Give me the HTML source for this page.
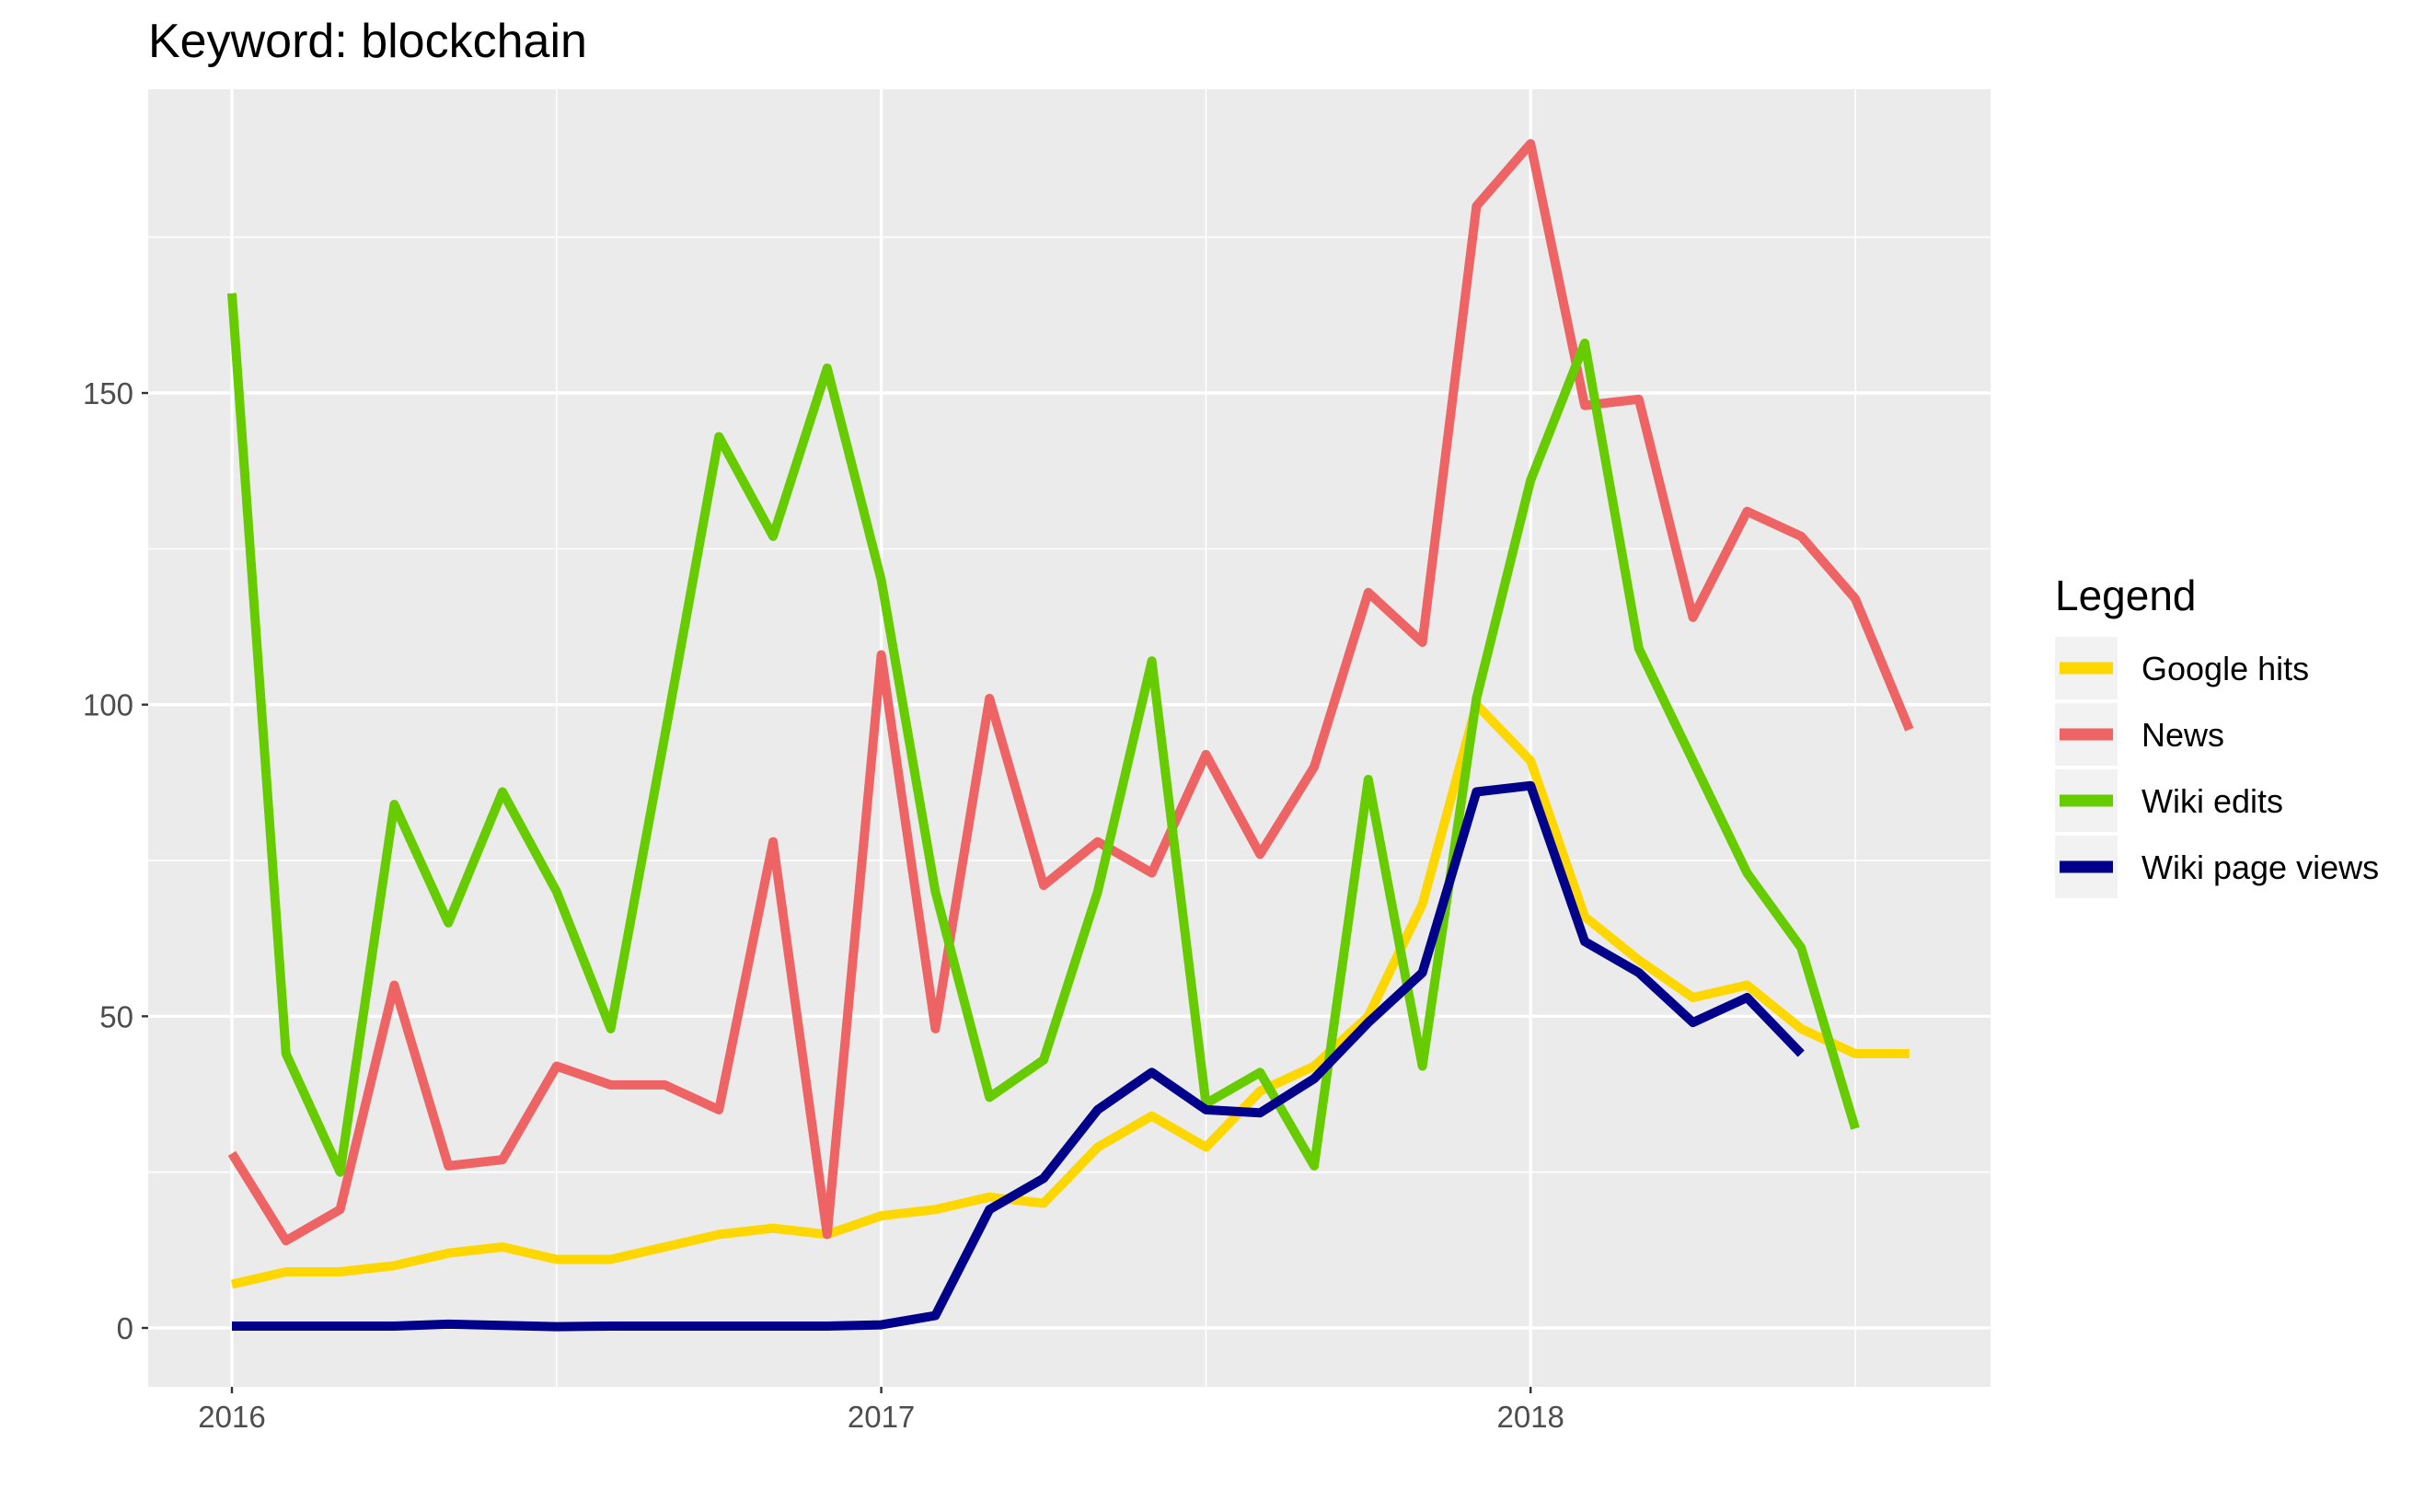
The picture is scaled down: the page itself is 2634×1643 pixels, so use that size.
<!DOCTYPE html>
<html><head><meta charset="utf-8"><style>
html,body{margin:0;padding:0;background:#fff;}
svg{display:block;font-family:"Liberation Sans",Arial,sans-serif;}
</style></head><body>
<svg id="chart" width="2634" height="1643" viewBox="0 0 2634 1643" xmlns="http://www.w3.org/2000/svg">
<text x="161" y="62" font-size="52" fill="#000">Keyword: blockchain</text>
<rect x="161" y="97" width="2002" height="1410" fill="#ebebeb"/>
<g id="grid"></g>
<g id="series"></g>
<g id="axes"></g>
<g id="legend">
<text x="2233" y="663" font-size="46" fill="#000">Legend</text>
</g>
</svg>
<script>
const googleHits=[7,9,9,10,12,13,11,11,13,15,16,15,18,19,21,20,29,34,29,38,42,50,68,100,91,66,59,53,55,48,44,44];
const news=[28,14,19,55,26,27,42,39,39,35,78,15,108,48,101,71,78,73,92,76,90,118,110,180,190,148,149,114,131,127,117,96];
const wikiEdits=[166,44,25,84,65,86,70,48,95,143,127,154,120,70,37,43,70,107,36,41,26,88,42,101,136,158,109,91,73,61,32];
const wikiViews=[0.3,0.3,0.3,0.3,0.6,0.4,0.2,0.3,0.3,0.3,0.3,0.3,0.5,2,19,24,35,41,35,34.5,40,49,57,86,87,62,57,49,53,44];
const seriesNames=["Google hits","News","Wiki edits","Wiki page views"];
const seriesColors=["#FFD700","#EE6363","#66CC00","#00008B"];
const yTicks=[0,50,100,150];
const yMinor=[25,75,125,175];
const xTickLabels=["2016","2017","2018"];
const xTickMonths=[0,12,24];
const xMinorMonths=[6,18,30];

const NS="http://www.w3.org/2000/svg";
const PX0=161,PX1=2163,PY0=97,PY1=1507;
function xs(m){return 252+m*58.8;}
function ys(v){return 1443-v*6.773;}
function mk(tag,attrs,parent){const e=document.createElementNS(NS,tag);for(const k in attrs)e.setAttribute(k,attrs[k]);parent.appendChild(e);return e;}
const grid=document.getElementById('grid');
yMinor.forEach(v=>{const l=mk('line',{x1:PX0,x2:PX1,y1:ys(v),y2:ys(v),stroke:'#fff','stroke-width':1.6},grid);

});
xMinorMonths.forEach(m=>{const l=mk('line',{x1:xs(m),x2:xs(m),y1:PY0,y2:PY1,stroke:'#fff','stroke-width':1.6},grid);

});
yTicks.forEach(v=>{const l=mk('line',{x1:PX0,x2:PX1,y1:ys(v),y2:ys(v),stroke:'#fff','stroke-width':3.4},grid);

});
xTickMonths.forEach(m=>{const l=mk('line',{x1:xs(m),x2:xs(m),y1:PY0,y2:PY1,stroke:'#fff','stroke-width':3.4},grid);

});
const sg=document.getElementById('series');
[googleHits,news,wikiEdits,wikiViews].forEach((arr,i)=>{
 const pts=arr.map((v,j)=>xs(j).toFixed(1)+','+ys(v).toFixed(1)).join(' ');
 const p=mk('polyline',{points:pts,fill:'none',stroke:seriesColors[i],'stroke-width':10,'stroke-linejoin':'round','stroke-linecap':'butt'},sg);
 
 
});
const ax=document.getElementById('axes');
yTicks.forEach(v=>{
 const t=mk('line',{x1:PX0-7,x2:PX0,y1:ys(v),y2:ys(v),stroke:'#333','stroke-width':2.4},ax);
 
 
 const tx=mk('text',{x:PX0-16,y:ys(v)+12,'font-size':33,fill:'#4d4d4d','text-anchor':'end'},ax);
 tx.textContent=String(v);
 
 
});
xTickMonths.forEach((m,i)=>{
 const t=mk('line',{x1:xs(m),x2:xs(m),y1:PY1,y2:PY1+7,stroke:'#333','stroke-width':2.4},ax);
 
 
 const tx=mk('text',{x:xs(m),y:PY1+44,'font-size':33,fill:'#4d4d4d','text-anchor':'middle'},ax);
 tx.textContent=xTickLabels[i];
 
 
});
const lg=document.getElementById('legend');
seriesNames.forEach((n,i)=>{
 const y0=692+i*72;
 const g=mk('g',{},lg);
 
 
 mk('rect',{x:2233,y:y0,width:68,height:68,fill:'#f2f2f2'},g);
 mk('line',{x1:2238,x2:2296,y1:y0+34,y2:y0+34,stroke:seriesColors[i],'stroke-width':13},g);
 const t=mk('text',{x:2327,y:y0+47,'font-size':36,fill:'#000'},g);
 t.textContent=n;
});
</script>
</body></html>
